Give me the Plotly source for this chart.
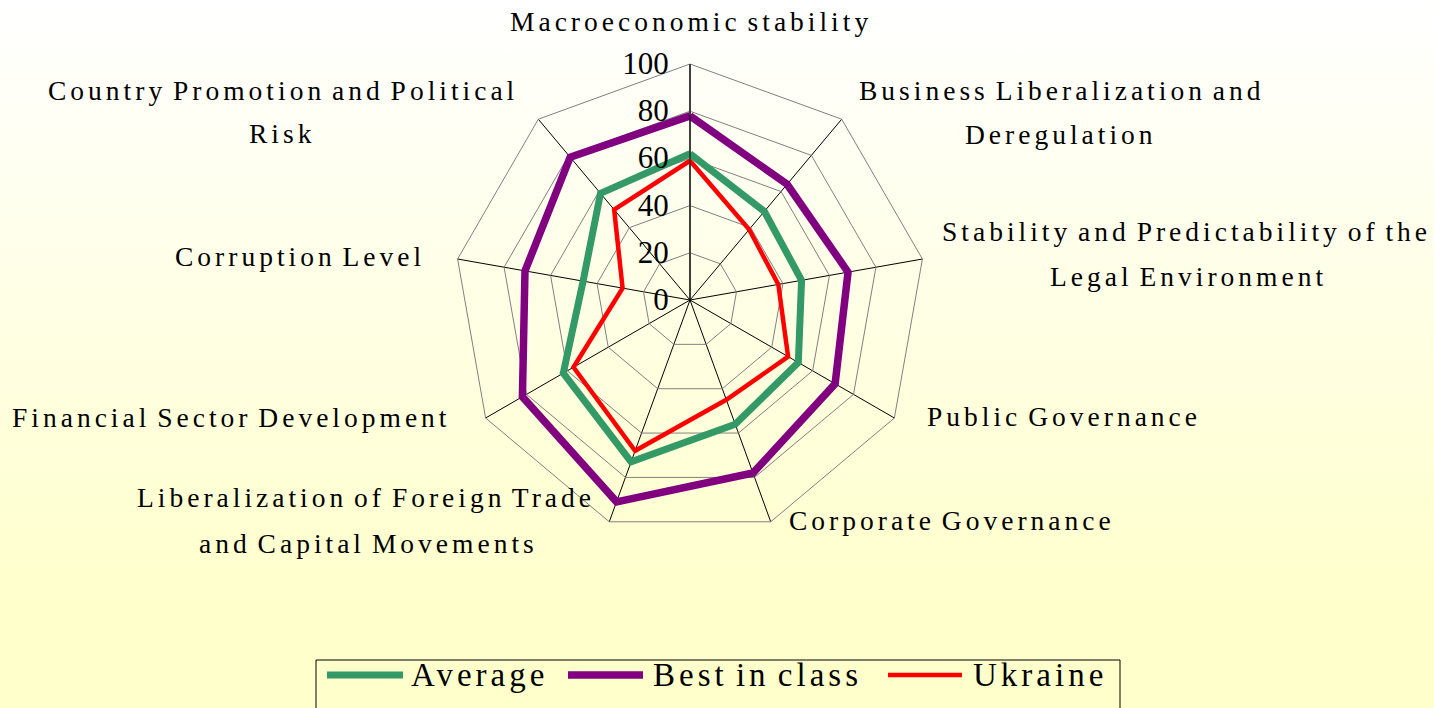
import base64
import plotly.graph_objects as go

# ---------------- data ----------------
categories = [
    "Macroeconomic stability",
    "Business Liberalization and\nDeregulation",
    "Stability and Predictability of the\nLegal Environment",
    "Public Governance",
    "Corporate Governance",
    "Liberalization of Foreign Trade\nand Capital Movements",
    "Financial Sector Development",
    "Corruption Level",
    "Country Promotion and Political\nRisk",
]
series_names = ["Average", "Best in class", "Ukraine"]
average = [62, 49, 48, 53, 56, 73, 62, 46, 59]
best_in_class = [78, 64, 68, 71, 78, 91, 82, 71, 79]
ukraine = [59, 39, 38, 48, 45, 68, 57, 29, 50]
radial_ticks = [0, 20, 40, 60, 80, 100]

# ---------------- styles ----------------
W, H = 1434, 708
colors = ["#339966", "#800080", "#FF0000"]
widths = [7, 7.5, 4.5]
FONT = "Liberation Serif, Times New Roman, serif"

cx, cy, R = 690, 300, 236

# label anchor positions (pixel centres of each text line)
label_pos = [
    [(691, 22)],
    [(1062, 90), (1061, 135)],
    [(1186, 232), (1188, 277)],
    [(1064, 416)],
    [(952, 520)],
    [(366, 497), (369, 543)],
    [(231, 417)],
    [(300, 256)],
    [(283, 90), (282, 134)],
]
legend_box = (316, 1120, 660)
legend_items = [((327, 403), 479), ((568, 643), 757), ((888, 962), 1040)]
legend_y = 675


def px(x):
    return x / W


def py(y):
    return 1 - y / H


fig = go.Figure()
theta_cat = [c.replace("\n", " ") for c in categories]
for name, vals, col, lw in zip(series_names, [average, best_in_class, ukraine], colors, widths):
    fig.add_trace(go.Scatterpolar(
        r=vals + vals[:1],
        theta=theta_cat + theta_cat[:1],
        mode="lines",
        name=name,
        line=dict(color=col, width=lw),
        showlegend=False,
        hoverinfo="skip",
    ))

# background gradient image
svg = (
    f'<svg xmlns="http://www.w3.org/2000/svg" width="{W}" height="{H}" preserveAspectRatio="none">'
    '<defs><linearGradient id="g" x1="0" y1="0" x2="0" y2="1">'
    '<stop offset="0" stop-color="#FFFFFF"/><stop offset="0.85" stop-color="#FFFFCC"/>'
    '<stop offset="1" stop-color="#FFFFCC"/></linearGradient></defs>'
    f'<rect width="{W}" height="{H}" fill="url(#g)"/></svg>'
)
src = "data:image/svg+xml;base64," + base64.b64encode(svg.encode()).decode()

annotations = []
for cat, poss in zip(categories, label_pos):
    lines = cat.split("\n")
    for line, (x, y) in zip(lines, poss):
        annotations.append(dict(
            text=line, x=px(x), y=py(y), xref="paper", yref="paper",
            xanchor="center", yanchor="middle", showarrow=False,
            font=dict(family=FONT, size=27.5, color="black"),
        ))

shapes = [dict(
    type="rect", xref="paper", yref="paper",
    x0=px(legend_box[0]), x1=px(legend_box[1]), y0=-0.05, y1=py(legend_box[2]),
    line=dict(color="black", width=1), fillcolor="rgba(0,0,0,0)",
)]
for name, col, lw, ((lx0, lx1), tx) in zip(series_names, colors, widths, legend_items):
    shapes.append(dict(
        type="line", xref="paper", yref="paper",
        x0=px(lx0), x1=px(lx1), y0=py(legend_y), y1=py(legend_y),
        line=dict(color=col, width=lw),
    ))
    annotations.append(dict(
        text=name, x=px(tx), y=py(legend_y), xref="paper", yref="paper",
        xanchor="center", yanchor="middle", showarrow=False,
        font=dict(family=FONT, size=33, color="black"),
    ))

fig.update_layout(
    width=W, height=H,
    margin=dict(l=0, r=0, t=0, b=0),
    paper_bgcolor="#FFFFEE",
    showlegend=False,
    images=[dict(source=src, xref="paper", yref="paper", x=0, y=1, sizex=1, sizey=1,
                 sizing="stretch", layer="below", xanchor="left", yanchor="top")],
    polar=dict(
        domain=dict(x=[px(cx - R), px(cx + R)], y=[py(cy + R), py(cy - R)]),
        bgcolor="rgba(0,0,0,0)",
        gridshape="linear",
        angularaxis=dict(
            type="category", categoryorder="array", categoryarray=theta_cat,
            rotation=90, direction="clockwise",
            showticklabels=False, ticks="",
            gridcolor="black", gridwidth=1,
            showline=True, linecolor="#808080", linewidth=1,
        ),
        radialaxis=dict(
            range=[0, 100], tickvals=radial_ticks, ticktext=[str(v) for v in radial_ticks],
            angle=90, tickangle=90, side="counterclockwise",
            showline=True, linecolor="black", linewidth=1,
            gridcolor="#808080", gridwidth=1,
            ticks="outside", ticklen=10, tickcolor="rgba(0,0,0,0)",
            tickfont=dict(family=FONT, size=31, color="black"),
        ),
    ),
    annotations=annotations,
    shapes=shapes,
)

post = """
var gd = document.getElementById('{plot_id}');
function applyLS(){
  gd.querySelectorAll('g.annotation text.annotation-text').forEach(function(t){
    t.style.letterSpacing = '4px';
    t.style.wordSpacing = '-4px';
  });
}
applyLS();
gd.on('plotly_afterplot', applyLS);
"""
fig.write_html("out.html", post_script=post)
